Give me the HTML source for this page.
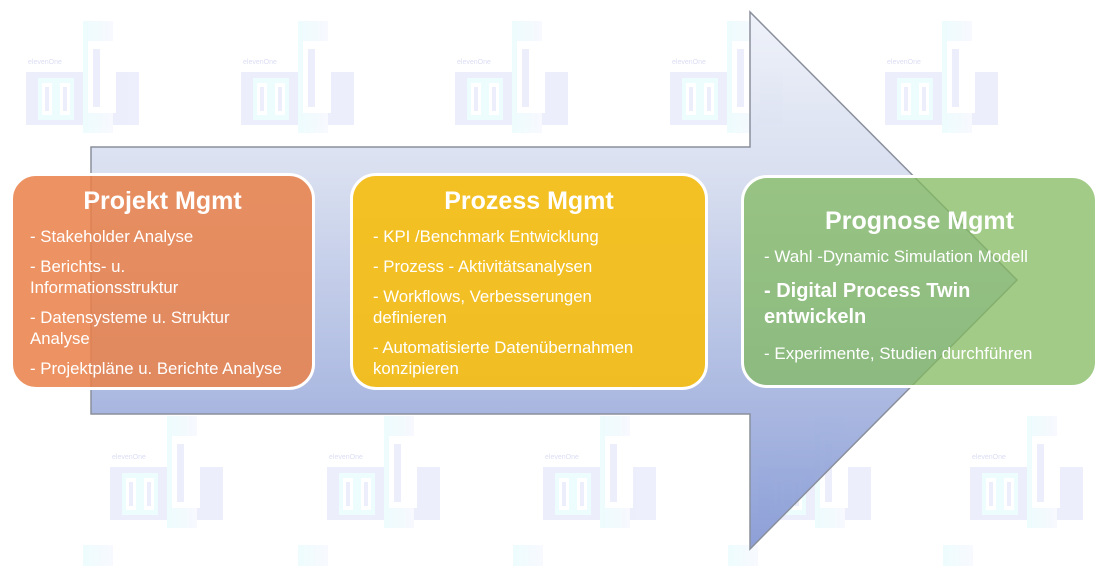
<!DOCTYPE html>
<html><head><meta charset="utf-8"><style>
body{margin:0;width:1108px;height:566px;overflow:hidden;background:#fff;font-family:"Liberation Sans",sans-serif;}
.box{position:absolute;border:3px solid #fff;border-radius:26px;color:#fff;box-sizing:border-box;}
.box h2{margin:0;text-align:center;font-size:25px;font-weight:bold;line-height:28px;}
.box p{margin:0;font-size:16.8px;line-height:21px;margin-bottom:9px;white-space:nowrap;}
</style></head><body>
<svg width="1108" height="566" style="position:absolute;left:0;top:0">
<defs>
<linearGradient id="ag" x1="0" y1="0" x2="0" y2="1">
<stop offset="0" stop-color="#eef1f9"/><stop offset="0.3" stop-color="#d6ddef"/><stop offset="1" stop-color="#8498d4"/></linearGradient>
<linearGradient id="cy" x1="0" y1="0" x2="1" y2="0"><stop offset="0" stop-color="#e4fbfd"/><stop offset="1" stop-color="#f4f6ff"/></linearGradient>
<g id="lg" opacity="0.65">
<rect x="0" y="51" width="113" height="53" fill="#e4e6fb"/>
<rect x="57" y="0" width="30" height="112" fill="url(#cy)"/>
<rect x="62" y="20" width="28" height="72" fill="#fff"/>
<rect x="67" y="28" width="7" height="58" fill="#e4e6fb"/>
<rect x="12" y="57" width="18" height="42" fill="#e4fbfd"/>
<rect x="30" y="57" width="18" height="42" fill="#e4fbfd"/>
<rect x="16" y="62" width="10" height="32" fill="#fff"/><rect x="34" y="62" width="10" height="32" fill="#fff"/>
<rect x="19" y="66" width="4" height="24" fill="#e4e6fb"/><rect x="37" y="66" width="4" height="24" fill="#e4e6fb"/>
<text x="2" y="43" font-size="7" fill="#c8cbef" font-family="Liberation Sans">elevenOne</text>
</g>
</defs>
<use href="#lg" x="26" y="21"/><use href="#lg" x="241" y="21"/><use href="#lg" x="455" y="21"/><use href="#lg" x="670" y="21"/><use href="#lg" x="885" y="21"/>
<use href="#lg" x="110" y="416"/><use href="#lg" x="327" y="416"/><use href="#lg" x="543" y="416"/><use href="#lg" x="758" y="416"/><use href="#lg" x="970" y="416"/>
<g opacity="0.65"><rect x="83" y="545" width="30" height="21" fill="url(#cy)"/><rect x="298" y="545" width="30" height="21" fill="url(#cy)"/><rect x="513" y="545" width="30" height="21" fill="url(#cy)"/><rect x="728" y="545" width="30" height="21" fill="url(#cy)"/><rect x="943" y="545" width="30" height="21" fill="url(#cy)"/></g>
<path d="M91 147 L750 147 L750 12 L1017 280 L750 549 L750 414 L91 414 Z" fill="url(#ag)" fill-opacity="0.93" stroke="#8a8f9c" stroke-width="1.5"/>
</svg>
<div class="box" style="left:10px;top:173px;width:305px;height:217px;background:rgba(234,128,72,0.85);padding:11px 0 0 17px;">
<h2 style="margin-left:-17px">Projekt Mgmt</h2>
<div style="margin-top:11px">
<p>- Stakeholder Analyse</p>
<p>- Berichts- u.<br>Informationsstruktur</p>
<p>- Datensysteme u. Struktur<br>Analyse</p>
<p style="font-size:16.8px">- Projektpläne u. Berichte Analyse</p></div></div>
<div class="box" style="left:350px;top:173px;width:358px;height:217px;background:rgba(245,190,20,0.93);padding:11px 0 0 20px;">
<h2 style="margin-left:-20px">Prozess Mgmt</h2>
<div style="margin-top:11px">
<p>- KPI /Benchmark Entwicklung</p>
<p>- Prozess - Aktivitätsanalysen</p>
<p>- Workflows, Verbesserungen<br>definieren</p>
<p>- Automatisierte Datenübernahmen<br>konzipieren</p></div></div>
<div class="box" style="left:741px;top:175px;width:357px;height:213px;background:rgba(130,185,95,0.75);padding:29px 0 0 20px;">
<h2 style="margin-left:-20px">Prognose Mgmt</h2>
<div style="margin-top:11px">
<p style="font-size:17px">- Wahl -Dynamic Simulation Modell</p>
<p style="font-size:20px;font-weight:bold;line-height:26px;margin-top:11px">- Digital Process Twin<br>entwickeln</p>
<p style="font-size:17px;margin-top:13px">- Experimente, Studien durchführen</p></div></div>
</body></html>
